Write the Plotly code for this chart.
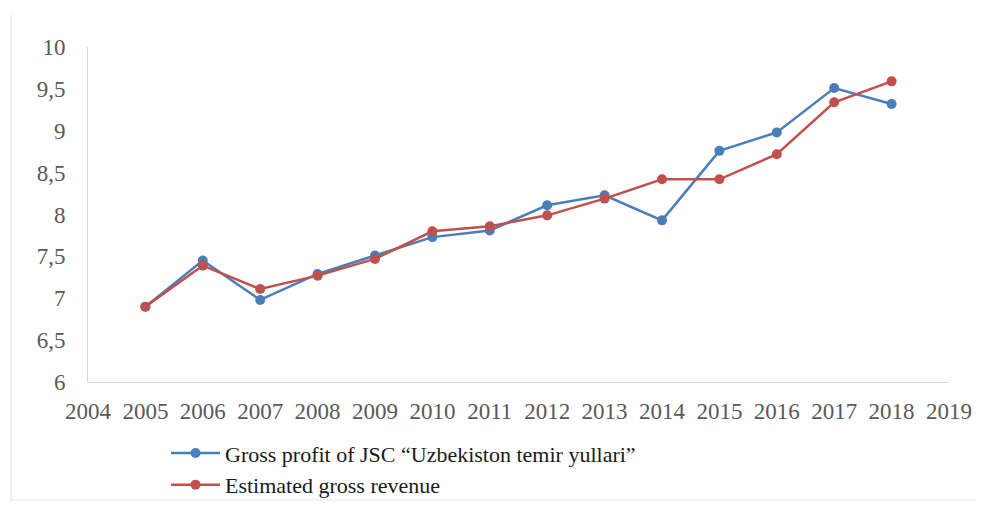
import plotly.graph_objects as go

years = [2005, 2006, 2007, 2008, 2009, 2010, 2011, 2012, 2013, 2014, 2015, 2016, 2017, 2018]
gross_profit = [6.90, 7.45, 6.98, 7.29, 7.51, 7.73, 7.81, 8.11, 8.23, 7.93, 8.76, 8.98, 9.51, 9.32]
estimated_revenue = [6.90, 7.39, 7.11, 7.27, 7.47, 7.80, 7.86, 7.99, 8.19, 8.42, 8.42, 8.72, 9.34, 9.59]
x_ticks = list(range(2004, 2020))
y_ticks = [6, 6.5, 7, 7.5, 8, 8.5, 9, 9.5, 10]
y_tick_labels = ["6", "6,5", "7", "7,5", "8", "8,5", "9", "9,5", "10"]

series_names = ["Gross profit of JSC “Uzbekiston temir yullari”", "Estimated gross revenue"]
colors = ["#4a7ebb", "#c0504d"]

fig = go.Figure()
for name, vals, c in zip(series_names, [gross_profit, estimated_revenue], colors):
    fig.add_trace(go.Scatter(
        x=years, y=vals, name=name, mode="lines+markers",
        line=dict(color=c, width=2.5),
        marker=dict(color=c, size=10),
    ))

font_family = "Liberation Serif, Times New Roman, serif"
fig.update_layout(
    width=976, height=513,
    margin=dict(l=80, r=35, t=39, b=139),
    paper_bgcolor="white", plot_bgcolor="white",
    showlegend=True,
    legend=dict(
        x=0.0906, y=-0.15, xanchor="left", yanchor="top",
        font=dict(family=font_family, size=22, color="#1a1a1a"),
        tracegroupgap=0, itemwidth=49,
        bgcolor="rgba(0,0,0,0)",
    ),
    xaxis=dict(
        range=[2004, 2019], tickvals=x_ticks, ticktext=[str(v) for v in x_ticks],
        showgrid=False, zeroline=False, showline=True, linecolor="#d9d9d9", linewidth=1,
        ticks="", tickfont=dict(family=font_family, size=23, color="#595959"),
        ticklabelstandoff=8,
    ),
    yaxis=dict(
        range=[6, 10], tickvals=y_ticks, ticktext=y_tick_labels,
        showgrid=False, zeroline=False, showline=True, linecolor="#d9d9d9", linewidth=1,
        ticks="", tickfont=dict(family=font_family, size=23, color="#595959"),
        ticklabelstandoff=17,
    ),
    shapes=[
        dict(type="line", xref="paper", yref="paper", x0=-0.0894, x1=-0.0894, y0=1.10, y1=-0.36,
             line=dict(color="#e6e6e6", width=1)),
        dict(type="line", xref="paper", yref="paper", x0=-0.0894, x1=1.05, y0=-0.352, y1=-0.352,
             line=dict(color="#e6e6e6", width=1)),
    ],
)

fig.write_html("out.html")
